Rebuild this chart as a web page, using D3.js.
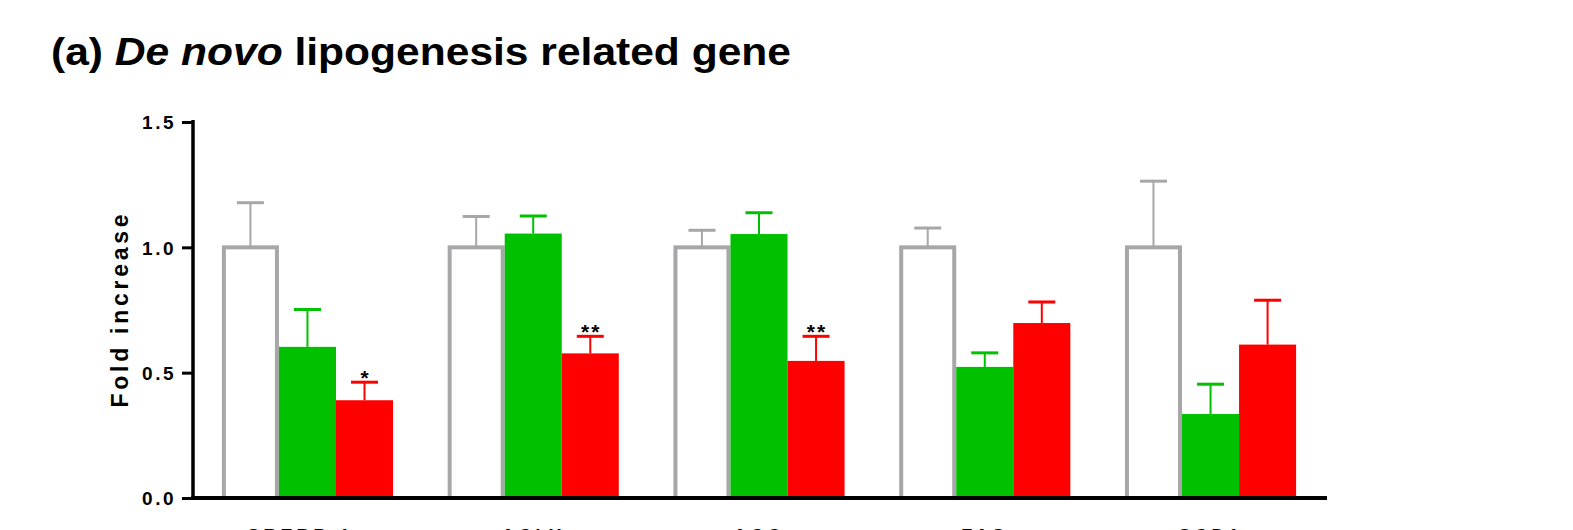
<!DOCTYPE html>
<html>
<head>
<meta charset="utf-8">
<script src="https://cdn.jsdelivr.net/npm/d3@7"></script>
<style>
  body { margin: 0; background: #fff; }
  svg { display: block; font-family: "Liberation Sans", Arial, sans-serif; }
</style>
</head>
<body>
<svg width="1573" height="530"></svg>
<script>
// data
var genes = ["SREBP-1c", "ACLY", "ACC", "FAS", "SCD1"];
var groups = ["ctrl", "green", "red"];
var ctrlMean = [1.0, 1.0, 1.0, 1.0, 1.0];
var ctrlErr = [0.178, 0.123, 0.068, 0.077, 0.264];
var greenMean = [0.603, 1.055, 1.053, 0.523, 0.335];
var greenErr = [0.149, 0.07, 0.085, 0.056, 0.119];
var redMean = [0.39, 0.577, 0.547, 0.698, 0.612];
var redErr = [0.072, 0.068, 0.098, 0.084, 0.177];
var stars = ["*", "**", "**", "", ""];
var yTicks = [0, 0.5, 1.0, 1.5];

var colors = { ctrl: "#a7a7a9", green: "#00c000", red: "#ff0000" };

var svg = d3.select("svg");

var x = d3.scaleBand().domain(genes).range([193, 1325])
    .paddingInner(0.242).paddingOuter(0.128);
var xi = d3.scaleBand().domain(groups).range([0, x.bandwidth()]);
var y = d3.scaleLinear().domain([0, 1.5]).range([498, 122]);

var rows = [];
genes.forEach(function(g, i) {
  rows.push({ gene: g, grp: "ctrl", v: ctrlMean[i], e: ctrlErr[i] });
  rows.push({ gene: g, grp: "green", v: greenMean[i], e: greenErr[i] });
  rows.push({ gene: g, grp: "red", v: redMean[i], e: redErr[i], star: stars[i] });
});

// title
svg.append("text")
    .attr("transform", "translate(51,65) scale(1.12,1)")
    .style("font-size", "38px").style("font-weight", "bold")
    .call(function(t) {
      t.append("tspan").text("(a) ");
      t.append("tspan").style("font-style", "italic").text("De novo");
      t.append("tspan").text(" lipogenesis related gene");
    });

// error bars (behind bars)
var eb = svg.append("g").selectAll("g")
    .data(rows).enter().append("g")
    .attr("stroke", function(d) { return colors[d.grp]; })
    .attr("stroke-width", 2);
eb.append("line")
    .attr("x1", function(d) { return x(d.gene) + xi(d.grp) + xi.bandwidth() / 2; })
    .attr("x2", function(d) { return x(d.gene) + xi(d.grp) + xi.bandwidth() / 2; })
    .attr("y1", function(d) { return y(d.v); })
    .attr("y2", function(d) { return y(d.v + d.e); });
eb.append("line")
    .attr("stroke-width", 3)
    .attr("x1", function(d) { return x(d.gene) + xi(d.grp) + xi.bandwidth() / 2 - 13.5; })
    .attr("x2", function(d) { return x(d.gene) + xi(d.grp) + xi.bandwidth() / 2 + 13.5; })
    .attr("y1", function(d) { return y(d.v + d.e); })
    .attr("y2", function(d) { return y(d.v + d.e); });

// bars
svg.append("g").selectAll("rect")
    .data(rows).enter().append("rect")
    .attr("x", function(d) { return x(d.gene) + xi(d.grp) + (d.grp == "ctrl" ? 2 : 0); })
    .attr("width", function(d) { return xi.bandwidth() - (d.grp == "ctrl" ? 4 : 0); })
    .attr("y", function(d) { return y(d.v); })
    .attr("height", function(d) { return y(0) - y(d.v); })
    .attr("fill", function(d) { return d.grp == "ctrl" ? "#fff" : colors[d.grp]; })
    .attr("stroke", function(d) { return d.grp == "ctrl" ? colors.ctrl : "none"; })
    .attr("stroke-width", 4);

// significance stars
svg.append("g").selectAll("text")
    .data(rows.filter(function(d) { return d.star; })).enter().append("text")
    .attr("x", function(d) { return x(d.gene) + xi(d.grp) + xi.bandwidth() / 2 + 1; })
    .attr("y", function(d) { return y(d.v + d.e) + 3; })
    .attr("text-anchor", "middle")
    .style("font-size", "21px").style("font-weight", "bold")
    .style("letter-spacing", "2px")
    .text(function(d) { return d.star; });

// y axis
var yAxis = svg.append("g")
    .attr("transform", "translate(193,0)")
    .call(d3.axisLeft(y).tickValues(yTicks).tickFormat(d3.format(".1f")).tickSizeOuter(0).tickSize(11).tickPadding(6));
yAxis.select(".domain").attr("stroke", "#000").attr("stroke-width", 3.5).attr("d", "M0,499V120");
yAxis.selectAll(".tick line").attr("stroke", "#000").attr("stroke-width", 3);
yAxis.selectAll(".tick text")
    .style("font-size", "19px").style("font-weight", "bold")
    .style("font-family", "Liberation Sans, Arial, sans-serif")
    .style("letter-spacing", "2.5px").attr("fill", "#000").attr("dy", "0.36em");

// x axis (labels fall mostly below the picture's edge, as in the source)
var xAxis = svg.append("g")
    .attr("transform", "translate(0,498)")
    .call(d3.axisBottom(x).tickSize(0).tickPadding(43.5));
xAxis.select(".domain").attr("stroke", "#000").attr("stroke-width", 4).attr("d", "M191,0H1327");
xAxis.selectAll(".tick text")
    .style("font-size", "18px").style("font-weight", "bold")
    .style("font-family", "Liberation Sans, Arial, sans-serif")
    .style("letter-spacing", "4px").attr("fill", "#000").attr("dy", "0");

// y label
svg.append("text")
    .attr("transform", "translate(128,311) rotate(-90)")
    .attr("text-anchor", "middle")
    .attr("textLength", 193).attr("lengthAdjust", "spacing")
    .style("font-size", "23px").style("font-weight", "bold")
    .text("Fold increase");
</script>
</body>
</html>
